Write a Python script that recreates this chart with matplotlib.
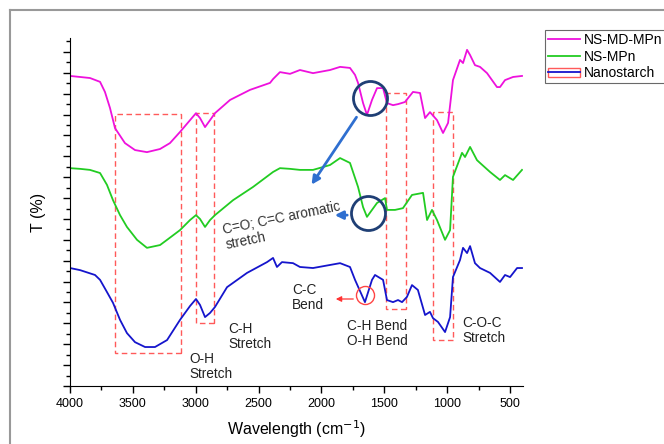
import numpy as np
import matplotlib
matplotlib.use("Agg")
import matplotlib.pyplot as plt
from matplotlib.lines import Line2D
from matplotlib.patches import Patch, Rectangle
from matplotlib.ticker import MultipleLocator

plt.rcParams['font.family'] = ['Liberation Sans', 'DejaVu Sans']

# FTIR spectra (wavenumber in cm-1, T in arbitrary %)
wn_md = [4000, 3920, 3841, 3761, 3722, 3682, 3642, 3563, 3483, 3388, 3284, 3205, 3125,
         3045, 2998, 2966, 2926, 2886, 2847, 2727, 2568, 2409, 2385, 2330, 2250, 2171,
         2067, 1932, 1852, 1773, 1733, 1709, 1669, 1638, 1598, 1558, 1510, 1479, 1431,
         1391, 1336, 1272, 1216, 1176, 1137, 1081, 1033, 993, 954, 898, 874, 842, 818,
         779, 739, 683, 604, 580, 540, 476, 405]
t_md = [89.1, 88.8, 88.5, 87.4, 84.5, 79.9, 74.1, 69.8, 67.8, 67.2, 68.1, 69.8, 73.0,
        76.4, 78.4, 77.0, 74.4, 76.4, 78.4, 82.2, 85.1, 87.1, 88.2, 90.2, 89.7, 90.8,
        89.9, 90.8, 91.7, 91.4, 89.4, 87.1, 81.3, 77.9, 82.2, 85.6, 85.6, 81.3, 80.7,
        81.0, 81.6, 84.5, 84.2, 77.0, 78.7, 76.4, 72.7, 75.6, 87.9, 93.7, 92.8, 96.6,
        95.1, 92.2, 91.7, 89.9, 85.9, 85.9, 87.9, 88.8, 89.1]

wn_mp = [4000, 3920, 3841, 3761, 3706, 3658, 3602, 3547, 3467, 3388, 3284, 3228, 3125,
         3045, 2998, 2966, 2926, 2886, 2847, 2703, 2544, 2385, 2330, 2250, 2171, 2067,
         1932, 1852, 1773, 1709, 1669, 1638, 1598, 1558, 1494, 1479, 1415, 1352, 1280,
         1192, 1160, 1121, 1081, 1017, 977, 954, 882, 858, 818, 763, 739, 659, 580, 540,
         476, 405]
t_mp = [62.6, 62.4, 62.1, 61.2, 57.8, 53.4, 49.1, 45.7, 42.0, 39.7, 40.5, 42.0, 44.8,
        47.7, 49.1, 48.0, 45.7, 47.7, 49.1, 53.4, 57.2, 61.5, 62.6, 62.4, 62.1, 62.1,
        63.5, 65.5, 64.1, 57.2, 51.4, 48.6, 50.6, 52.6, 54.0, 50.6, 50.6, 51.1, 54.9,
        55.5, 47.7, 50.6, 47.7, 42.0, 44.8, 60.1, 67.0, 65.8, 68.7, 64.9, 64.1, 61.5,
        59.2, 60.6, 59.2, 62.1]

wn_ns = [4000, 3920, 3801, 3761, 3706, 3658, 3602, 3547, 3483, 3403, 3324, 3228, 3125,
         3045, 2998, 2966, 2926, 2886, 2847, 2751, 2592, 2433, 2385, 2354, 2314, 2226,
         2171, 2067, 1852, 1773, 1733, 1654, 1598, 1574, 1510, 1479, 1431, 1391, 1359,
         1320, 1280, 1233, 1176, 1137, 1113, 1073, 1017, 977, 954, 898, 874, 842, 818,
         779, 739, 659, 580, 540, 500, 444, 405]
t_ns = [33.9, 33.3, 31.9, 30.5, 27.0, 23.9, 19.0, 15.2, 12.6, 11.2, 11.2, 13.2, 19.0,
        23.0, 25.0, 23.3, 19.8, 21.0, 22.7, 28.4, 32.5, 35.6, 36.8, 34.2, 35.6, 35.3,
        34.2, 33.9, 35.3, 34.2, 30.5, 24.1, 30.5, 31.9, 30.5, 24.7, 24.1, 24.7, 24.1,
        25.6, 29.0, 27.6, 20.4, 21.3, 19.5, 18.4, 15.5, 19.8, 31.3, 36.2, 39.7, 38.2,
        40.2, 35.3, 33.9, 32.5, 29.9, 31.9, 31.3, 33.9, 33.9]

# band regions: (wn high, wn low, T low, T high)
bands = [(3642, 3117, 9.5, 78.2),
         (2998, 2855, 18.1, 78.4),
         (1487, 1328, 22.1, 84.2),
         (1113, 954, 13.2, 78.7)]

labels = [("O-H\nStretch", 3053, 9.8),
          ("C-H\nStretch", 2743, 18.4),
          ("C-C\nBend", 2234, 29.5),
          ("C-H Bend\nO-H Bend", 1797, 19.3),
          ("C-O-C\nStretch", 882, 20.1)]

c_md = '#ee11dd'
c_mp = '#22cc22'
c_ns = '#1515cc'
c_box = '#ff5a5a'
c_circ = '#1f3f75'
c_arr = '#2f6fd0'

fig = plt.figure(figsize=(6.64, 4.44), dpi=100)
ax = fig.add_axes([70 / 664, 58 / 444, 453 / 664, 348 / 444])

ax.plot(wn_md, t_md, color=c_md, lw=1.3)
ax.plot(wn_mp, t_mp, color=c_mp, lw=1.3)
ax.plot(wn_ns, t_ns, color=c_ns, lw=1.3)

for hi, lo, b, t in bands:
    ax.add_patch(Rectangle((lo, b), hi - lo, t - b, fill=False, ec=c_box,
                           ls=(0, (4, 2.5)), lw=1.0))

# circles around the C=O / C=C bands
ax.plot([1614, 1630], [82.8, 49.7], 'o', ms=24.5, mfc='none', mec=c_circ, mew=2)
ax.plot([1654], [26.1], 'o', ms=13, mfc='none', mec='#ff4444', mew=1)

ax.annotate('', xy=(2091, 57.2), xytext=(1709, 77.9),
            arrowprops=dict(arrowstyle='-|>', color=c_arr, lw=2, mutation_scale=12))
ax.annotate('', xy=(1916, 49.1), xytext=(1773, 49.1),
            arrowprops=dict(arrowstyle='-|>', color=c_arr, lw=2, mutation_scale=12))
ax.annotate('', xy=(1908, 25.0), xytext=(1725, 25.0),
            arrowprops=dict(arrowstyle='-|>', color='#ff3333', lw=0.9, mutation_scale=8))

ax.text(2799, 46.8, "C=O; C=C aromatic\nstretch", rotation=11.5, rotation_mode='anchor',
        ha='left', va='top', fontsize=9.8, color='#333333', linespacing=1.1)
for txt, x, y in labels:
    ax.text(x, y, txt, ha='left', va='top', fontsize=9.8, color='#222222', linespacing=1.1)

ax.set_xlim(4000, 397)
ax.set_ylim(0, 100)
ax.xaxis.set_major_locator(MultipleLocator(500))
ax.xaxis.set_minor_locator(MultipleLocator(250))
ax.yaxis.set_major_locator(MultipleLocator(6))
ax.yaxis.set_minor_locator(MultipleLocator(3))
ax.set_yticklabels([])
ax.tick_params(axis='both', which='major', length=5, width=1, direction='out', labelsize=9)
ax.tick_params(axis='both', which='minor', length=3, width=1, direction='out')
ax.spines['top'].set_visible(False)
ax.spines['right'].set_visible(False)
ax.set_xlabel('Wavelength (cm$^{-1}$)', fontsize=11.5, labelpad=6)
ax.set_ylabel('T (%)', fontsize=11.5, labelpad=9)

h_ns = (Patch(facecolor='none', edgecolor=c_box, lw=1), Line2D([], [], color=c_ns, lw=1.3))
leg = fig.legend([Line2D([], [], color=c_md, lw=1.3), Line2D([], [], color=c_mp, lw=1.3), h_ns],
                 ['NS-MD-MPn', 'NS-MPn', 'Nanostarch'],
                 loc='upper left', bbox_to_anchor=(545 / 664, 1 - 30 / 444),
                 fontsize=10, frameon=True, fancybox=False, edgecolor='#444444',
                 handlelength=2.3, handletextpad=0.3, borderpad=0.2, labelspacing=0.2,
                 borderaxespad=0)
leg.get_frame().set_linewidth(0.8)

# grey frame round the panel
fig.add_artist(Line2D([10 / 664, 1], [1 - 10 / 444, 1 - 10 / 444], color='#999999', lw=1.5))
fig.add_artist(Line2D([10 / 664, 10 / 664], [0, 1 - 10 / 444], color='#999999', lw=1.5))

fig.savefig('out.png', dpi=100)
